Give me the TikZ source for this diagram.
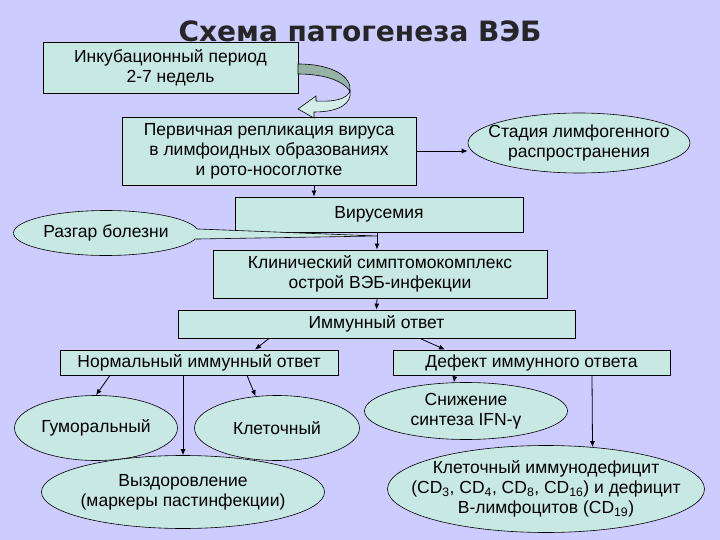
\documentclass[tikz,border=0pt]{standalone}
\usepackage{fontspec}
\setmainfont{Liberation Sans}
\newfontfamily\titlefont{DejaVu Sans}
\usetikzlibrary{shapes.geometric,shapes.callouts,arrows.meta,calc}
\definecolor{bglav}{RGB}{204,204,255}
\definecolor{boxfill}{RGB}{200,232,228}
\definecolor{twist}{RGB}{150,178,165}

\begin{document}
\begin{tikzpicture}[x=1pt,y=-1pt,font=\fontsize{17.5}{20}\selectfont,
  box/.style={draw, fill=boxfill, line width=0.8pt, inner sep=0pt, align=center},
  oval/.style={ellipse, draw, fill=boxfill, line width=0.6pt, inner xsep=-25pt, inner ysep=-6pt, align=center},
  arr/.style={-{Latex[length=6pt,width=5pt]}, line width=0.8pt}]
\fill[bglav] (0,0) rectangle (720,540);
\useasboundingbox (0,0) rectangle (720,540);
\node[font=\titlefont\bfseries\fontsize{28}{30}\selectfont, text=black!85] (title) at (360,31) {Схема патогенеза ВЭБ};
% boxes
\node[box, minimum width=255, minimum height=51] (incub) at (170.5,67.5) {Инкубационный период\\2-7 недель};
\node[box, minimum width=294, minimum height=68] (primary) at (269,151) {Первичная репликация вируса\\в лимфоидных образованиях\\и рото-носоглотке};
\node[oval, minimum width=222, minimum height=60] (lymph) at (579,143) {Стадия лимфогенного\\распространения};
\node[box, minimum width=288, minimum height=35] (viremia) at (379,214.5) {Вирусемия};
\coordinate (tip) at (377,236);
\node[ellipse callout, draw, fill=boxfill, line width=0.6pt, inner xsep=-25pt, inner ysep=-6pt, callout absolute pointer={(tip)}, callout pointer arc=26, minimum width=185, minimum height=45] (peak) at (106,233) {Разгар болезни};
\node[box, minimum width=334, minimum height=48] (clinical) at (380,274) {Клинический симптомокомплекс\\острой ВЭБ-инфекции};
\node[box, minimum width=397, minimum height=28] (immune) at (376.5,324) {Иммунный ответ};
\node[box, minimum width=278, minimum height=25] (normal) at (199,362.5) {Нормальный иммунный ответ};
\node[box, minimum width=277, minimum height=25] (defect) at (531.5,362.5) {Дефект иммунного ответа};
% ovals
\node[oval, minimum width=163, minimum height=65] (humoral) at (96,428) {Гуморальный};
\node[oval, minimum width=165, minimum height=65] (cellular) at (277,428) {Клеточный};
\node[oval, minimum width=283, minimum height=73] (recovery) at (183,492) {Выздоровление\\(маркеры пастинфекции)};
\node[oval, minimum width=203, minimum height=57] (ifn) at (466,411) {Снижение\\синтеза IFN-γ};
\node[oval, minimum width=317, minimum height=87] (deficit) at (546,489) {Клеточный иммунодефицит\\(CD\textsubscript{3}, CD\textsubscript{4}, CD\textsubscript{8}, CD\textsubscript{16}) и дефицит\\В-лимфоцитов (CD\textsubscript{19})};
% curved block arrow
\filldraw[fill=twist, line width=0.6pt] (298,64) .. controls (333,64) and (352,77) .. (350,91) .. controls (343,81) and (325,74) .. (298,74) -- cycle;
\filldraw[fill=boxfill!80!white, line width=0.6pt] (350,91) .. controls (347,99) and (335,102) .. (316,101) -- (316,96) -- (298,109) -- (314,118) -- (314,112) .. controls (340,112) and (352,103) .. (350,91) -- cycle;
% connectors
\draw[arr] (primary.east) -- (lymph.west |- primary.east);
\draw[arr] ($(primary.south)+(45,0)$) -- ($(viremia.north)+(-65,0)$);
\draw[arr] ($(viremia.south)+(-2,0)$) -- ($(clinical.north)+(-3,0)$);
\draw[arr] ($(clinical.south)+(-3,0)$) -- (immune.north);
\draw[arr] ($(immune.south)+(-107.5,0)$) -- ($(normal.north)+(56,0)$);
\draw[arr] ($(immune.south)+(43.5,0)$) -- ($(defect.north)+(-86.5,0)$);
\draw[arr] ($(normal.south)+(-89,0)$) -- (humoral.north);
\draw[arr] ($(normal.south)+(-16,0)$) -- (recovery.north);
\draw[arr] ($(normal.south)+(48,0)$) -- (cellular.124);
\draw[arr] ($(defect.south)+(-76.5,0)$) -- (ifn.113);
\draw[arr] ($(defect.south)+(60.5,0)$) -- (deficit.42);
\end{tikzpicture}
\end{document}
